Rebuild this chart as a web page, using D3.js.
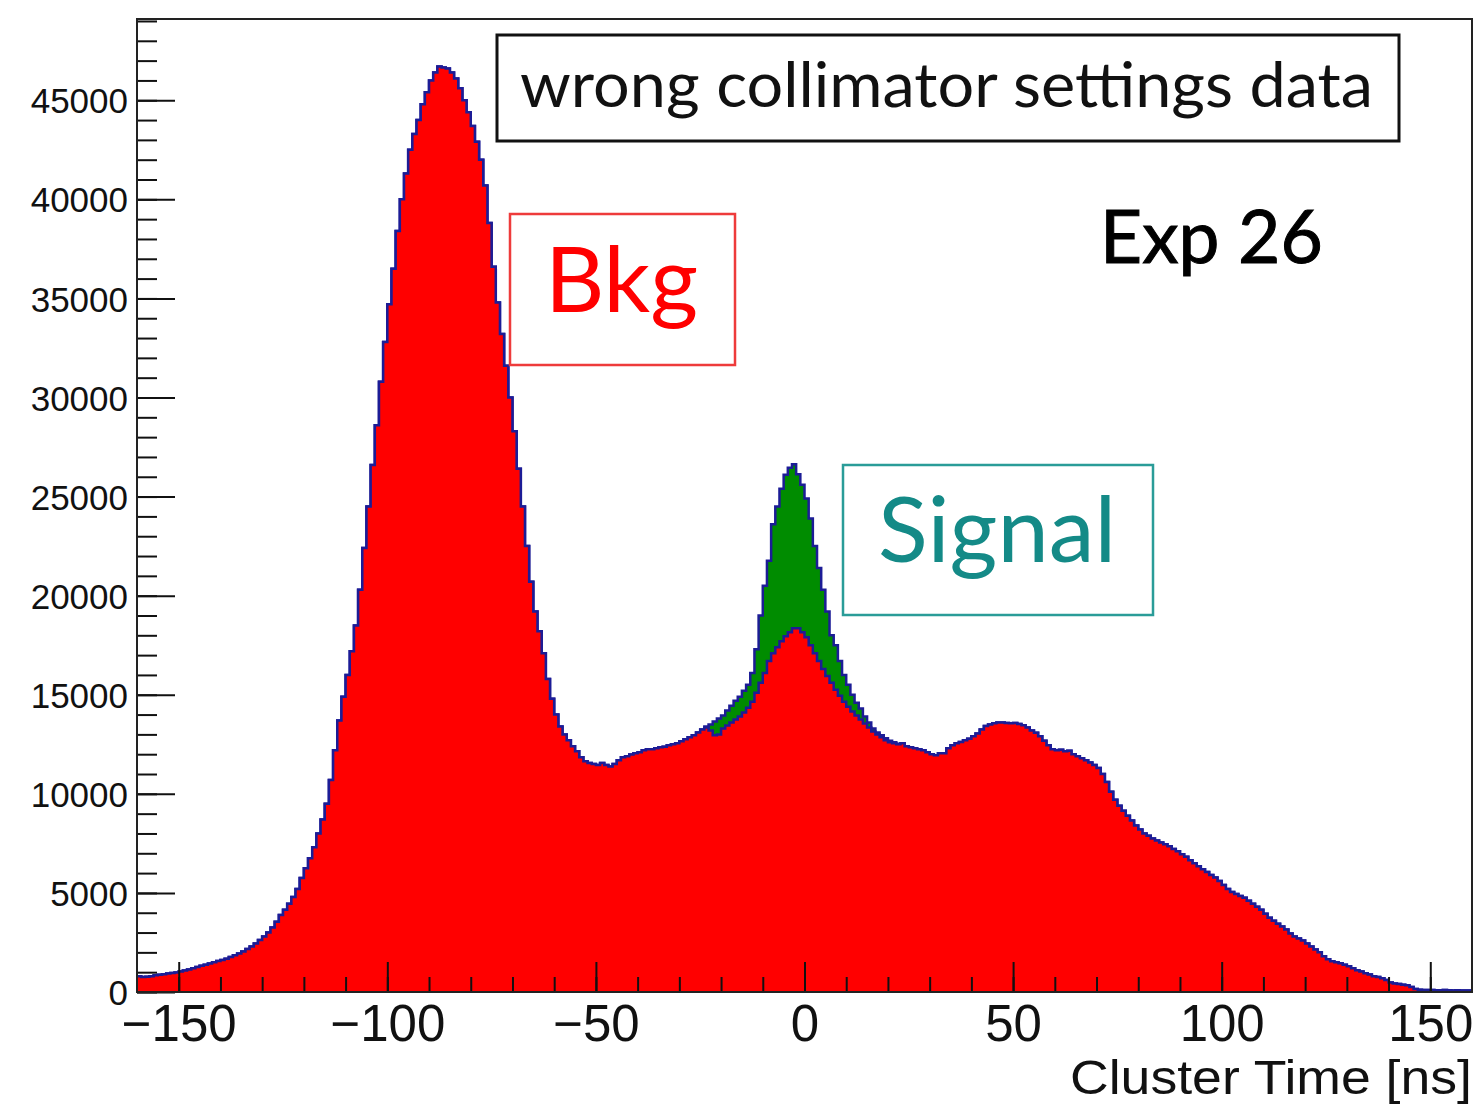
<!DOCTYPE html>
<html>
<head>
<meta charset="utf-8">
<script src="https://cdn.jsdelivr.net/npm/d3@7"></script>
<style>
  body { margin: 0; background: #fff; }
</style>
</head>
<body>
<div id="chart"></div>
<script>
// histogram binning: 1 ns bins from -160 to 160
const binLow = -160;
const binWidth = 1;

// background counts per bin (Bkg, red), bins -160 ... 159
const bkgCounts = [
  800, 760, 770, 800, 840, 870, 900, 930, 960, 990,
  1030, 1080, 1140, 1200, 1260, 1320, 1380, 1440, 1500, 1560,
  1620, 1680, 1760, 1850, 1940, 2050, 2170, 2300, 2450, 2620,
  2800, 3000, 3250, 3550, 3880, 4150, 4450, 4800, 5200, 5750,
  6250, 6750, 7300, 8000, 8700, 9500, 10700, 12200, 13700, 14900,
  16000, 17200, 18500, 20300, 22400, 24500, 26600, 28600, 30800, 32800,
  34700, 36500, 38400, 40000, 41300, 42500, 43300, 44000, 44800, 45400,
  46000, 46400, 46700, 46650, 46600, 46400, 46100, 45600, 45000, 44400,
  43700, 42900, 42000, 40700, 38800, 36600, 34800, 33200, 31600, 30000,
  28300, 26400, 24500, 22500, 20700, 19200, 18200, 17100, 15800, 14800,
  14000, 13400, 13000, 12700, 12400, 12150, 11850, 11650, 11550, 11500,
  11450, 11550, 11450, 11380, 11500, 11700, 11850, 11900, 11980, 12050,
  12100, 12200, 12250, 12250, 12300, 12350, 12380, 12450, 12500, 12550,
  12650, 12750, 12850, 12950, 13100, 13250, 13350, 13200, 12950, 13000,
  13300, 13450, 13600, 13750, 13900, 14100, 14350, 14650, 15100, 15600,
  16100, 16700, 17100, 17400, 17700, 17950, 18150, 18350, 18350, 18150,
  17900, 17500, 17100, 16700, 16300, 15950, 15600, 15250, 14950, 14650,
  14400, 14150, 13950, 13750, 13550, 13350, 13150, 13000, 12850, 12700,
  12600, 12550, 12500, 12550, 12400, 12350, 12300, 12250, 12200, 12100,
  12000, 11950, 12050, 12050, 12300, 12450, 12550, 12620, 12700, 12780,
  12900, 13050, 13250, 13420, 13500, 13560, 13600, 13600, 13580, 13560,
  13570, 13520, 13460, 13350, 13200, 13080, 12900, 12680, 12450, 12250,
  12200, 12220, 12150, 12180, 12000, 11900, 11800, 11700, 11580, 11450,
  11300, 11000, 10600, 10100, 9700, 9400, 9150, 8900, 8650, 8400,
  8200, 8000, 7880, 7750, 7650, 7550, 7450, 7350, 7220, 7100,
  6950, 6820, 6650, 6500, 6350, 6200, 6050, 5900, 5780, 5600,
  5400, 5200, 5050, 4950, 4850, 4750, 4600, 4450, 4300, 4150,
  3950, 3750, 3600, 3450, 3300, 3150, 2950, 2800, 2700, 2600,
  2450, 2300, 2150, 2000, 1800, 1650, 1550, 1500, 1450, 1380,
  1300, 1200, 1100, 1030, 950, 880, 800, 760, 700, 600,
  480, 430, 400, 370, 340, 250, 150, 110, 100, 100,
  100, 90, 90, 100, 90, 80, 90, 80, 80, 80
];

// signal excess on top of background (green), bins -24 ... 22
const sigFirstBin = -24;
const sigCounts = [
  50, 300, 700, 800, 650, 750, 850, 950, 1000, 1100,
  1150, 1450, 2200, 3400, 4400, 5060, 6500, 7100, 7700, 8150,
  8300, 8280, 7780, 7450, 7000, 6400, 5400, 4700, 4000, 3250,
  2400, 2250, 1750, 1350, 1100, 850, 650, 550, 350, 250,
  150, 100, 100, 100, 80, 50, 30
];

// axis ticks
const xMajorTicks = [-150, -100, -50, 0, 50, 100, 150];
const yMajorTicks = [0, 5000, 10000, 15000, 20000, 25000, 30000, 35000, 40000, 45000];

const width = 1477, height = 1104;
const plot = { left: 137, right: 1472, top: 19, bottom: 992 };

let svg = d3.select('#chart')
    .append('svg')
    .attr('width', width)
    .attr('height', height);

let x = d3.scaleLinear().domain([-160, 160]).range([plot.left, plot.right]);
let y = d3.scaleLinear().domain([0, 49100]).range([plot.bottom, plot.top]);

// put bkg and bkg+signal together per bin
let bins = bkgCounts.map(function (c, i) {
    let lo = binLow + i * binWidth;
    let j = lo - sigFirstBin;
    let s = (j >= 0 && j < sigCounts.length) ? sigCounts[j] : 0;
    return { lo: lo, bkg: c, total: c + s };
});

function stepPoints(key) {
    let pts = bins.map(b => [b.lo, b[key]]);
    pts.push([binLow + bins.length * binWidth, bins[bins.length - 1][key]]);
    return pts;
}

let area = d3.area()
    .curve(d3.curveStepAfter)
    .x(d => x(d[0]))
    .y0(y(0))
    .y1(d => y(d[1]));

let line = d3.line()
    .curve(d3.curveStepAfter)
    .x(d => x(d[0]))
    .y(d => y(d[1]));

// stacked: total (green) first, then background (red) on top
svg.append('path')
    .attr('d', area(stepPoints('total')))
    .attr('fill', '#008c00');
svg.append('path')
    .attr('d', line(stepPoints('total')))
    .attr('fill', 'none')
    .attr('stroke', '#1c1c96')
    .attr('stroke-width', 2.5);

svg.append('path')
    .attr('d', area(stepPoints('bkg')))
    .attr('fill', '#ff0000');
svg.append('path')
    .attr('d', line(stepPoints('bkg')))
    .attr('fill', 'none')
    .attr('stroke', '#1c1c96')
    .attr('stroke-width', 2.5);

// y axis, ticks pointing into the frame
let yMinor = svg.append('g')
    .attr('transform', 'translate(' + plot.left + ',0)')
    .call(d3.axisLeft(y).tickValues(d3.range(0, 49001, 1000)).tickSize(-20).tickFormat(''));
let yMajor = svg.append('g')
    .attr('transform', 'translate(' + plot.left + ',0)')
    .call(d3.axisLeft(y).tickValues(yMajorTicks).tickSize(-38).tickPadding(9).tickFormat(d3.format('d')));

// x axis
let xMinor = svg.append('g')
    .attr('transform', 'translate(0,' + plot.bottom + ')')
    .call(d3.axisBottom(x).tickValues(d3.range(-150, 151, 10)).tickSize(-15).tickFormat(''));
let xMajor = svg.append('g')
    .attr('transform', 'translate(0,' + plot.bottom + ')')
    .call(d3.axisBottom(x).tickValues(xMajorTicks).tickSize(-30).tickPadding(13));

[yMinor, yMajor, xMinor, xMajor].forEach(function (g) {
    g.select('.domain').remove();
    g.selectAll('.tick line').attr('stroke', '#111').attr('stroke-width', 2);
});

yMajor.selectAll('text')
    .attr('font-family', 'Liberation Sans, Arial, sans-serif')
    .attr('font-size', 35)
    .attr('dy', '0.36em')
    .attr('fill', '#111');

xMajor.selectAll('text')
    .attr('font-family', 'Liberation Sans, Arial, sans-serif')
    .attr('font-size', 51)
    .attr('fill', '#111');

// frame
svg.append('rect')
    .attr('x', plot.left)
    .attr('y', plot.top)
    .attr('width', plot.right - plot.left)
    .attr('height', plot.bottom - plot.top)
    .attr('fill', 'none')
    .attr('stroke', '#222')
    .attr('stroke-width', 2);

// axis title
svg.append('text')
    .attr('x', plot.right)
    .attr('y', 1094)
    .attr('text-anchor', 'end')
    .attr('font-family', 'Liberation Sans, Arial, sans-serif')
    .attr('font-size', 49)
    .attr('textLength', 402)
    .attr('lengthAdjust', 'spacingAndGlyphs')
    .attr('fill', '#111')
    .text('Cluster Time [ns]');

// title box
svg.append('rect')
    .attr('x', 497).attr('y', 35)
    .attr('width', 902).attr('height', 106)
    .attr('fill', '#fff')
    .attr('stroke', '#111')
    .attr('stroke-width', 3);
svg.append('text')
    .attr('x', 520)
    .attr('y', 107)
    .attr('textLength', 853)
    .attr('lengthAdjust', 'spacingAndGlyphs')
    .attr('font-family', 'Lato, sans-serif')
    .attr('font-size', 62)
    .attr('fill', '#111')
    .text('wrong collimator settings data');

svg.append('text')
    .attr('x', 1100)
    .attr('y', 263)
    .attr('font-family', 'Lato, sans-serif')
    .attr('font-size', 73)
    .attr('fill', '#000')
    .attr('stroke', '#000')
    .attr('stroke-width', 1)
    .text('Exp 26');

// Bkg label
svg.append('rect')
    .attr('x', 510).attr('y', 214)
    .attr('width', 225).attr('height', 151)
    .attr('fill', '#fff')
    .attr('stroke', '#ee3b3b')
    .attr('stroke-width', 2.5);
svg.append('text')
    .attr('x', 545)
    .attr('y', 312)
    .attr('font-family', 'Lato, sans-serif')
    .attr('font-size', 92)
    .attr('fill', '#ff0000')
    .text('Bkg');

// Signal label
svg.append('rect')
    .attr('x', 843).attr('y', 465)
    .attr('width', 310).attr('height', 150)
    .attr('fill', '#fff')
    .attr('stroke', '#2a9c98')
    .attr('stroke-width', 2.5);
svg.append('text')
    .attr('x', 878)
    .attr('y', 562)
    .attr('font-family', 'Lato, sans-serif')
    .attr('font-size', 92)
    .attr('fill', '#148a87')
    .text('Signal');
</script>
</body>
</html>
